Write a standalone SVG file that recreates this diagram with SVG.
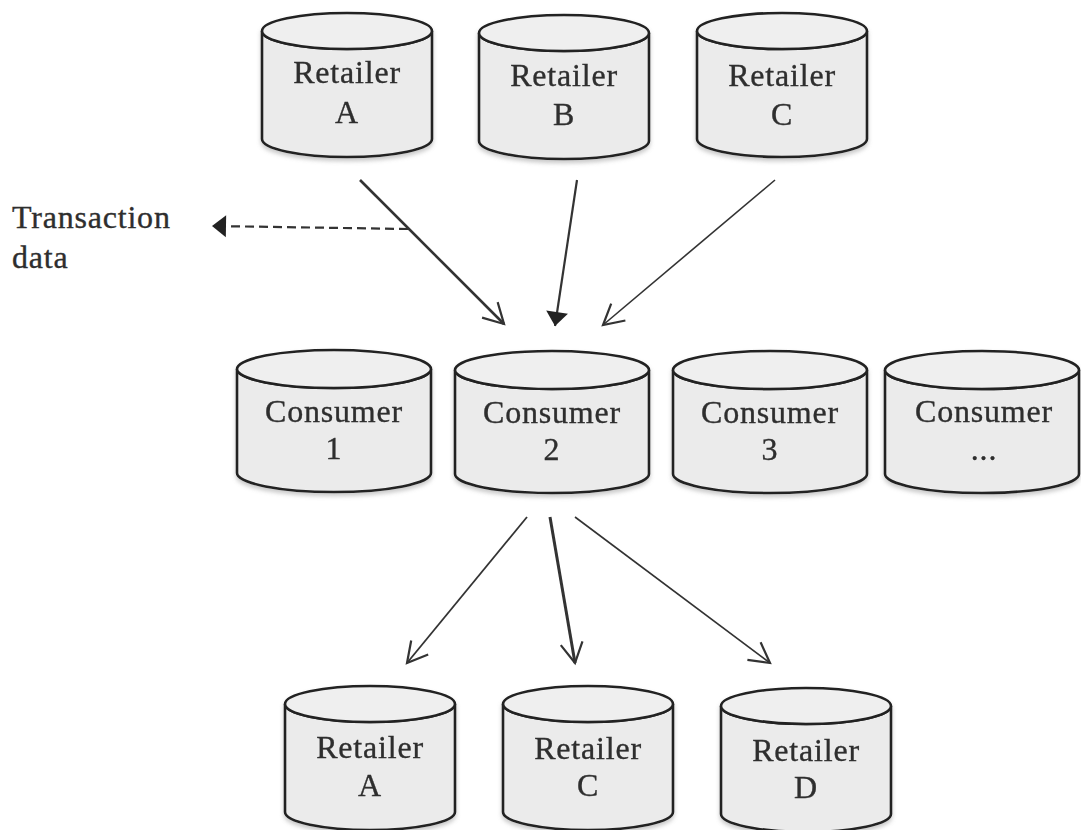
<svg xmlns="http://www.w3.org/2000/svg" width="1081" height="830" viewBox="0 0 1081 830">
<style>
.cyl{fill:#ebebeb;stroke:#222;stroke-width:2.6}
.top{fill:#efefef;stroke:#222;stroke-width:2.6}
.lbl{font-family:"Liberation Serif","Times New Roman",serif;font-size:32px;letter-spacing:0.8px;fill:#2e2e2e;stroke:#2e2e2e;stroke-width:0.35;text-anchor:middle}
.side{font-family:"Liberation Serif","Times New Roman",serif;font-size:32px;letter-spacing:0.8px;fill:#2e2e2e;stroke:#2e2e2e;stroke-width:0.35}
.conn{fill:none;stroke:#333}
</style>
<defs>
<filter id="sh" x="-20%" y="-20%" width="140%" height="150%">
<feDropShadow dx="0" dy="3" stdDeviation="2" flood-color="#888" flood-opacity="0.45"/>
</filter>
<g id="cylR">
<path class="cyl" d="M-85 0 V108 A85 18 0 0 0 85 108 V0 A85 18 0 0 1 -85 0 Z"/>
<ellipse class="top" cx="0" cy="0" rx="85" ry="18"/>
</g>
<g id="cylC">
<path class="cyl" d="M-97 0 V104 A97 19 0 0 0 97 104 V0 A97 19 0 0 1 -97 0 Z"/>
<ellipse class="top" cx="0" cy="0" rx="97" ry="19"/>
</g>
<marker id="open" viewBox="-24 -14 28 28" markerWidth="28" markerHeight="28" refX="0" refY="0" orient="auto" markerUnits="userSpaceOnUse">
<path d="M-20 -11 L0 0 L-20 11" fill="none" stroke="#333" stroke-width="2.2"/>
</marker>
<marker id="filled" viewBox="-16 -12 18 24" markerWidth="18" markerHeight="24" refX="0" refY="0" orient="auto" markerUnits="userSpaceOnUse">
<path d="M-14 -11 L0 0 L-14 11 Z" fill="#222"/>
</marker>
</defs>
<rect width="1081" height="830" fill="#fff"/>

<g id="connectors">
<line class="conn" x1="360" y1="180" x2="504" y2="324" stroke-width="2.6" marker-end="url(#open)"/>
<line class="conn" x1="577" y1="180" x2="555" y2="326" stroke-width="2.2" marker-end="url(#filled)"/>
<line class="conn" x1="775" y1="180" x2="603" y2="325" stroke-width="1.6" marker-end="url(#open)"/>
<line class="conn" x1="408" y1="229" x2="212" y2="226" stroke-width="2.2" stroke-dasharray="9 5" marker-end="url(#filled)"/>
<line class="conn" x1="527" y1="517" x2="407" y2="663" stroke-width="1.8" marker-end="url(#open)"/>
<line class="conn" x1="550" y1="517" x2="575" y2="663" stroke-width="3" marker-end="url(#open)"/>
<line class="conn" x1="575" y1="517" x2="770" y2="663" stroke-width="1.6" marker-end="url(#open)"/>
</g>

<g id="label-transaction">
<text class="side" x="12" y="228">Transaction</text>
<text class="side" x="12" y="268">data</text>
</g>

<g id="retailerA-top" filter="url(#sh)">
<use href="#cylR" x="347" y="31"/>
<text class="lbl" x="347" y="83">Retailer</text>
<text class="lbl" x="347" y="123">A</text>
</g>
<g id="retailerB-top" filter="url(#sh)">
<use href="#cylR" x="564" y="33"/>
<text class="lbl" x="564" y="86">Retailer</text>
<text class="lbl" x="564" y="125">B</text>
</g>
<g id="retailerC-top" filter="url(#sh)">
<use href="#cylR" x="782" y="31"/>
<text class="lbl" x="782" y="86">Retailer</text>
<text class="lbl" x="782" y="125">C</text>
</g>

<g id="consumer1" filter="url(#sh)">
<use href="#cylC" x="334" y="369"/>
<text class="lbl" x="334" y="422">Consumer</text>
<text class="lbl" x="334" y="459">1</text>
</g>
<g id="consumer2" filter="url(#sh)">
<use href="#cylC" x="552" y="370"/>
<text class="lbl" x="552" y="423">Consumer</text>
<text class="lbl" x="552" y="460">2</text>
</g>
<g id="consumer3" filter="url(#sh)">
<use href="#cylC" x="770" y="370"/>
<text class="lbl" x="770" y="423">Consumer</text>
<text class="lbl" x="770" y="460">3</text>
</g>
<g id="consumerN" filter="url(#sh)">
<use href="#cylC" x="982" y="370"/>
<text class="lbl" x="984" y="422">Consumer</text>
<text class="lbl" x="984" y="460">...</text>
</g>

<g id="retailerA-bottom" filter="url(#sh)">
<use href="#cylR" x="370" y="704"/>
<text class="lbl" x="370" y="758">Retailer</text>
<text class="lbl" x="370" y="796">A</text>
</g>
<g id="retailerC-bottom" filter="url(#sh)">
<use href="#cylR" x="588" y="704"/>
<text class="lbl" x="588" y="759">Retailer</text>
<text class="lbl" x="588" y="796">C</text>
</g>
<g id="retailerD-bottom" filter="url(#sh)">
<use href="#cylR" x="806" y="706"/>
<text class="lbl" x="806" y="761">Retailer</text>
<text class="lbl" x="806" y="798">D</text>
</g>
</svg>
